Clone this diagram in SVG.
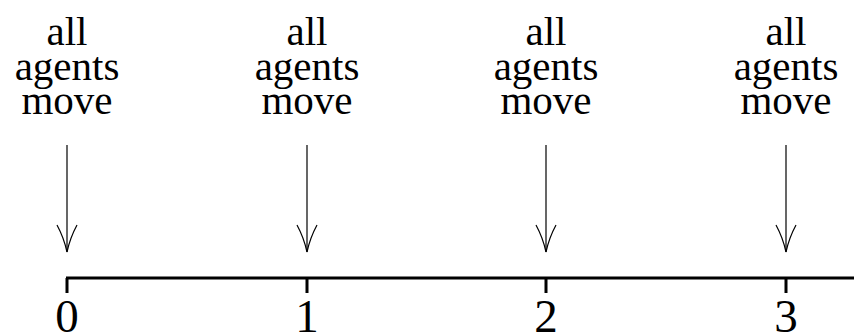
<svg xmlns="http://www.w3.org/2000/svg" width="854" height="335" viewBox="0 0 854 335">
  <defs>
    <style>
      .lbl { font-family: "Liberation Serif", "DejaVu Serif", serif; font-size: 41px; fill: #000; text-anchor: middle; }
      .num { font-family: "Liberation Serif", "DejaVu Serif", serif; font-size: 47px; fill: #000; text-anchor: middle; }
      .arrow { fill: none; stroke: #000; stroke-width: 1.2; }
      .axis { fill: none; stroke: #000; stroke-width: 3; }
    </style>
    <!-- downward arrow with curved barbs, tip at origin -->
    <g id="downArrow">
      <path class="arrow" d="M0,-107 L0,0"/>
      <path class="arrow" d="M-10,-27 Q-3,-14 0,0 M10,-27 Q3,-14 0,0"/>
    </g>
  </defs>

  <rect width="854" height="335" fill="#fff"/>

  <!-- time axis -->
  <g id="axis">
    <path class="axis" d="M66,278 H854"/>
    <path class="axis" d="M67,278 V293 M307,278 V293 M546,278 V293 M786,278 V293"/>
  </g>

  <g id="connectors">
    <use href="#downArrow" x="67" y="252"/>
    <use href="#downArrow" x="307" y="252"/>
    <use href="#downArrow" x="546" y="252"/>
    <use href="#downArrow" x="786" y="252"/>
  </g>

  <g id="event0">
    <text class="lbl" x="67" y="45">all</text>
    <text class="lbl" x="67" y="79.5">agents</text>
    <text class="lbl" x="67" y="114">move</text>
  </g>
  <g id="event1">
    <text class="lbl" x="307" y="45">all</text>
    <text class="lbl" x="307" y="79.5">agents</text>
    <text class="lbl" x="307" y="114">move</text>
  </g>
  <g id="event2">
    <text class="lbl" x="546" y="45">all</text>
    <text class="lbl" x="546" y="79.5">agents</text>
    <text class="lbl" x="546" y="114">move</text>
  </g>
  <g id="event3">
    <text class="lbl" x="786" y="45">all</text>
    <text class="lbl" x="786" y="79.5">agents</text>
    <text class="lbl" x="786" y="114">move</text>
  </g>

  <g id="ticks">
    <text class="num" x="67" y="332">0</text>
    <text class="num" x="307" y="332">1</text>
    <text class="num" x="546" y="332">2</text>
    <text class="num" x="786" y="332">3</text>
  </g>
</svg>
